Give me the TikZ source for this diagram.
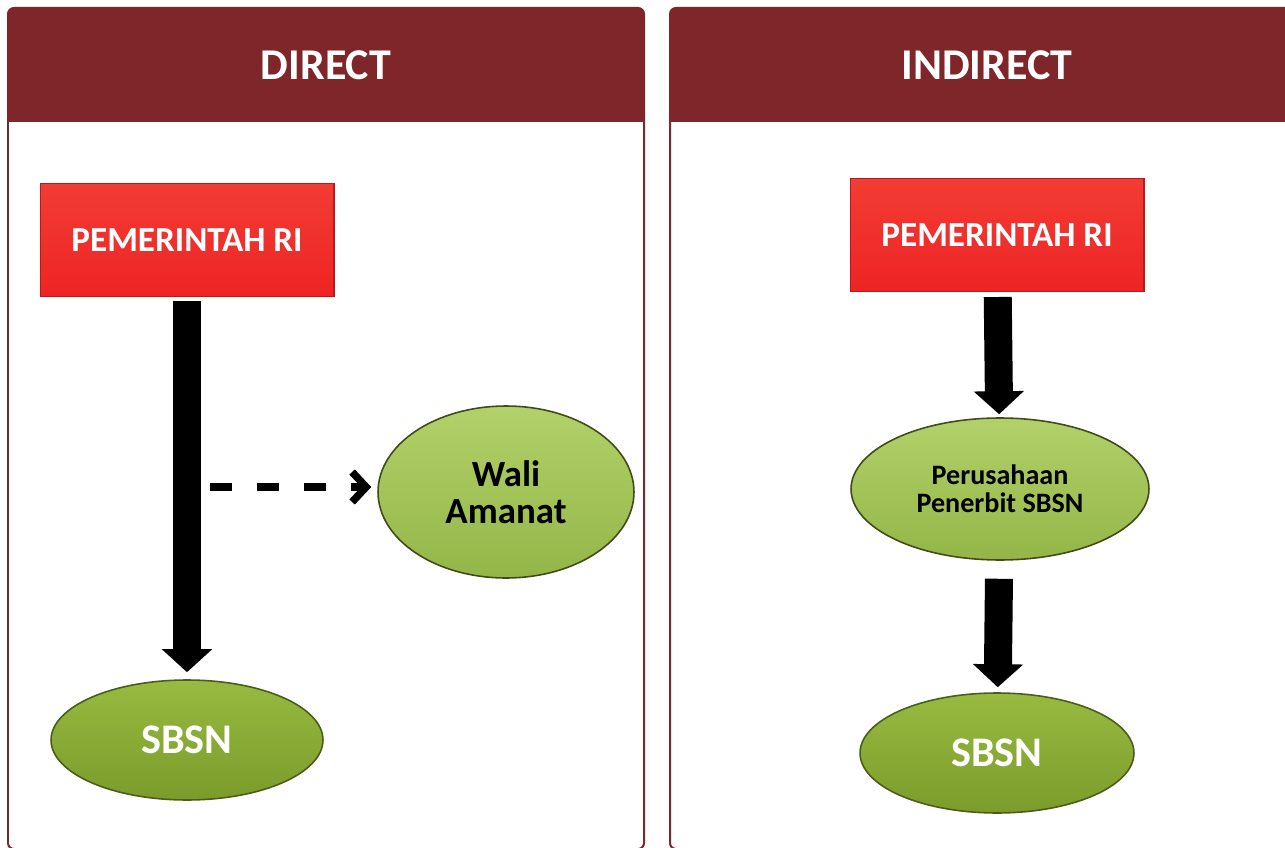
\documentclass[tikz,border=0pt]{standalone}
\usepackage{fontspec}
\setmainfont{Carlito}
\usepackage{xcolor}
\usepackage{tikz}
\usetikzlibrary{arrows.meta,shapes.geometric}
\definecolor{headcolor}{HTML}{7E2629}
\definecolor{pemcolor}{HTML}{EE2424}
\definecolor{pemtop}{HTML}{F23C34}
\definecolor{pemedge}{HTML}{B81A1A}
\definecolor{lightgreen}{HTML}{94B648}
\definecolor{lighttop}{HTML}{B2D16A}
\definecolor{darkgreen}{HTML}{7B9C2B}
\definecolor{darktop}{HTML}{98BA40}
\definecolor{greenedge}{HTML}{3E4C1A}

\tikzset{
  panel/.style={draw=headcolor, line width=0.04cm, rounded corners=0.12cm},
  title/.style={text=white, font=\fontsize{25pt}{30pt}\selectfont\bfseries},
  pembox/.style={rectangle, minimum width=5.88cm, minimum height=2.26cm, top color=pemtop, bottom color=pemcolor, draw=pemedge, line width=0.6pt, text=white, font=\fontsize{20pt}{22pt}\selectfont\bfseries},
  lightoval/.style={ellipse, top color=lighttop, bottom color=lightgreen, draw=greenedge, line width=0.9pt, inner sep=0pt, align=center, font=\bfseries},
  darkoval/.style={ellipse, top color=darktop, bottom color=darkgreen, draw=darkgreen!60!black, line width=0.9pt, inner sep=0pt, text=white, font=\fontsize{24pt}{26pt}\selectfont\bfseries},
  bigarrow/.style={line width=0.56cm, -{Triangle[width=0.98cm, length=0.46cm]}},
  dasharrow/.style={line width=0.15cm, dash pattern=on 0.44cm off 0.5cm, -{Straight Barb[width=0.6cm, length=0.28cm, line width=0.15cm]}}
}

\begin{document}
\begin{tikzpicture}[x=0.02cm, y=-0.02cm]
\useasboundingbox (0,0) rectangle (1285,848);
\clip (0,0) rectangle (1285,848);
% panels
\draw[panel] (8,8) rectangle (644,849);
\fill[headcolor] (8,122) [rounded corners=0.12cm] -- (8,8) -- (644,8) [sharp corners] -- (644,122) -- cycle;
\node[title] (direct) at (326,65) {DIRECT};%
\draw[panel] (670,8) rectangle (1304,849);
\fill[headcolor] (670,122) [rounded corners=0.12cm] -- (670,8) -- (1304,8) [sharp corners] -- (1304,122) -- cycle;
\node[title] (indirect) at (987,65) {INDIRECT};%
% direct
\node[pembox] (pem1) at (187,240) {PEMERINTAH RI};%
\node[lightoval, minimum width=5.12cm, minimum height=3.44cm, font=\fontsize{21pt}{21pt}\selectfont\bfseries] (wali) at (506,492) {Wali\\Amanat};%
\node[darkoval, minimum width=5.44cm, minimum height=2.4cm] (sbsn1) at (187,740) {SBSN};%
\draw[bigarrow, shorten <=0.08cm, shorten >=0.14cm] (pem1) -- (sbsn1);
\coordinate (tap) at (210,487);
\draw[dasharrow, shorten >=0.12cm] (tap) -- (tap -| wali.west);
% indirect
\node[pembox] (pem2) at (997,235) {PEMERINTAH RI};%
\node[lightoval, minimum width=5.96cm, minimum height=2.84cm, font=\fontsize{16pt}{16pt}\selectfont\bfseries] (peru) at (1000,489) {Perusahaan\\Penerbit SBSN};%
\node[darkoval, minimum width=5.48cm, minimum height=2.4cm] (sbsn2) at (997,753) {SBSN};%
\draw[bigarrow, shorten <=0.1cm, shorten >=0.06cm] (pem2) -- (peru);
\draw[bigarrow, shorten <=0.36cm, shorten >=0.1cm] (peru) -- (sbsn2);
\end{tikzpicture}
\end{document}
